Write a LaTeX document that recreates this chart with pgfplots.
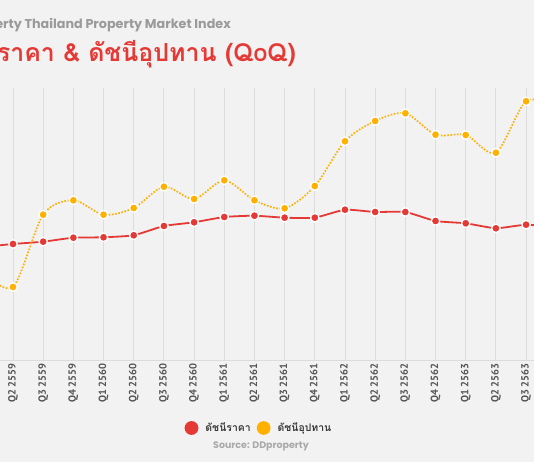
\documentclass[border=0pt]{standalone}
\usepackage{pgfplots}
\pgfplotsset{compat=1.18}
\usepackage{pgfplotstable}
\usepackage{fontspec}
\setmainfont{Poppins}
\newfontfamily\thai[Script=Thai]{Loma}
\newfontfamily\tickfont{PT Sans}
\definecolor{bg}{HTML}{F2F2F2}
\definecolor{gridc}{HTML}{DCDCDC}
\definecolor{ddred}{HTML}{E53935}
\definecolor{ddyel}{HTML}{FFB000}
\definecolor{tickc}{HTML}{555555}
\definecolor{legc}{HTML}{3A3A3A}
\definecolor{titlegray}{HTML}{9A9A9A}

\pgfplotstableread{
i red yellow
-1 113 89
0 116 73
1 118.3 145.3
2 122.3 159.7
3 122.7 145.3
4 124.7 152
5 134 173.3
6 137.7 161
7 143 179.7
8 144.3 159.7
9 142.3 151.7
10 142.3 174
11 150.3 218.7
12 148 239
13 148 246.7
14 139 225.3
15 136.7 225
16 131.7 207.3
17 135.3 258.7
18 133 253.4
}\datatable

\begin{document}
\begin{tikzpicture}[x=1bp,y=1bp]
\fill[bg] (0,0) rectangle (534,462);
\begin{scope}
\clip (0,0) rectangle (534,462);
\node[anchor=base east, text=titlegray, font=\fontsize{12.8}{13}\selectfont\bfseries, inner sep=0] at (231,433.5) {DDproperty Thailand Property Market Index};
\node[anchor=base east, text=ddred, font=\fontsize{25}{26}\selectfont\bfseries\thai, inner sep=0] at (296,400.5) {ดัชนีราคา \& ดัชนีอุปทาน (QoQ)};
\begin{axis}[
  at={(0,102)}, anchor=south west,
  scale only axis, width=534bp, height=272bp,
  xmin=-0.4307, xmax=17.263, ymin=0, ymax=272,
  axis x line=bottom, axis y line=none,
  axis line style={gridc, line width=0.8bp, -},
  xtick={-1,0,...,18},
  xticklabels={,Q2 2559,Q3 2559,Q4 2559,Q1 2560,Q2 2560,Q3 2560,Q4 2560,Q1 2561,Q2 2561,Q3 2561,Q4 2561,Q1 2562,Q2 2562,Q3 2562,Q4 2562,Q1 2563,Q2 2563,Q3 2563,},
  major tick length=0,
  xmajorgrids, grid style={gridc, line width=0.9bp},
  xticklabel style={rotate=90, anchor=east, text=tickc, font=\tickfont\fontsize{10.5}{11}\selectfont\bfseries},
  legend columns=2,
  legend style={at={(0.485,-0.25)}, anchor=center, draw=none, fill=none,
    font=\thai\fontsize{10.5}{11}\selectfont\bfseries, text=legc,
    /tikz/every odd column/.append style={column sep=5bp},
    /tikz/every even column/.append style={column sep=4bp}},
  legend cell align=left,
]
\addplot[ddred, line width=1.8bp, smooth, tension=0.3, mark=*, mark size=4.2bp,
  mark options={solid, fill=ddred, draw=white, line width=1.3bp},
  legend image code/.code={\fill[ddred, solid] (0cm,0cm) circle (6bp);}]
  table[x=i, y=red] {\datatable};
\addlegendentry{ดัชนีราคา}
\addplot[ddyel, line width=1.7bp, dash pattern=on 1.6bp off 1.6bp, smooth, tension=0.5, mark=*, mark size=4.2bp,
  mark options={solid, fill=ddyel, draw=white, line width=1.3bp},
  legend image code/.code={\fill[ddyel, solid] (0cm,0cm) circle (6bp);}]
  table[x=i, y=yellow] {\datatable};
\addlegendentry{ดัชนีอุปทาน}
\end{axis}
\node[text=titlegray!85, font=\fontsize{9.5}{10}\selectfont\bfseries, inner sep=0] at (261,16) {Source: DDproperty};
\end{scope}
\pgfresetboundingbox
\useasboundingbox (0,0) rectangle (534,462);
\end{tikzpicture}
\end{document}
